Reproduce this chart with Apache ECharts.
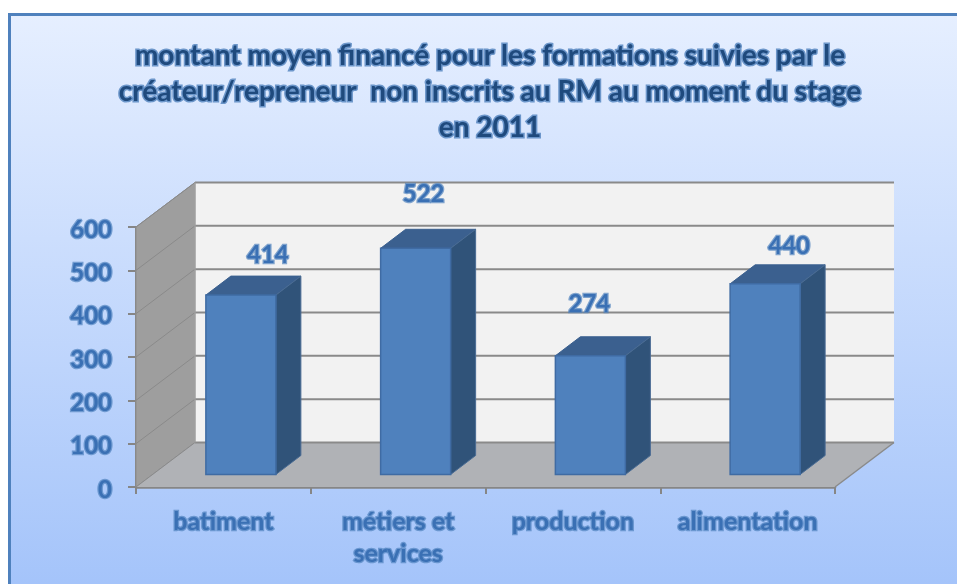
<!DOCTYPE html>
<html><head><meta charset="utf-8">
<style>html,body{margin:0;padding:0;background:#fff}#c{width:957px;height:584px}</style>
<script src="https://cdn.jsdelivr.net/npm/echarts@6/dist/echarts.min.js"></script>
</head><body><div id="c"></div>
<script>
const categories = ['batiment', 'métiers et\nservices', 'production', 'alimentation'];
const values = [414, 522, 274, 440];
const yTicks = [0, 600, 100];
const titleLines = ['montant moyen financé pour les formations suivies par le', 'créateur/repreneur  non inscrits au RM au moment du stage', 'en 2011'];

const chart = echarts.init(document.getElementById('c'), null, {renderer: 'canvas'});
const DX = 59, DY = -44.5;          // wall depth
const BAR_W = 70, BAR_DX = 25, BAR_DY = -19, FOOT_X = 17.5, FOOT_Y = -12.5;
const labelShift = [[27, -40], [8, -54], [-1, -52], [24, -38]];
const FONT = 'Lato, "Open Sans", sans-serif';
const TXT = '#3a70b4', HALO = 'rgba(79,129,189,0.7)';

function poly(pts, fill, stroke, lw) {
  return {type: 'polygon', shape: {points: pts}, style: {fill: fill, stroke: stroke || null, lineWidth: lw || 0}};
}
function walls(params, api) {
  const cs = params.coordSys;
  const left = cs.x, right = cs.x + cs.width;
  const y0 = api.coord([0, yTicks[0]])[1], yT = api.coord([0, yTicks[1]])[1];
  const ch = [];
  ch.push(poly([[left + DX, yT + DY], [right + DX, yT + DY], [right + DX, y0 + DY], [left + DX, y0 + DY]], '#f2f2f2'));
  ch.push(poly([[left, yT], [left + DX, yT + DY], [left + DX, y0 + DY], [left, y0]], '#9e9e9e', '#8c8c8c', 1));
  ch.push(poly([[left, y0], [left + DX, y0 + DY], [right + DX, y0 + DY], [right, y0]], '#b0b2b6'));
  for (let v = yTicks[0]; v <= yTicks[1]; v += yTicks[2]) {
    const y = api.coord([0, v])[1];
    const major = {stroke: '#8a8a8a', lineWidth: 2};
    ch.push({type: 'line', shape: {x1: left, y1: y, x2: left + DX, y2: y + DY}, style: {stroke: '#8a8a8a', lineWidth: 1}});
    ch.push({type: 'line', shape: {x1: left + DX, y1: y + DY, x2: right + DX, y2: y + DY}, style: major});
  }
  ch.push({type: 'line', shape: {x1: right, y1: y0, x2: right + DX, y2: y0 + DY}, style: {stroke: '#8a8a8a', lineWidth: 1.5}});
  ch.push({type: 'line', shape: {x1: left + DX, y1: yT + DY, x2: left + DX, y2: y0 + DY}, style: {stroke: '#a8a8a8', lineWidth: 1}});
  return {type: 'group', children: ch};
}
function bar3d(params, api) {
  const i = api.value(0), v = api.value(1);
  const cx = api.coord([i, 0])[0] + FOOT_X;
  const yb = api.coord([i, 0])[1] + FOOT_Y;
  const yt = api.coord([i, v])[1] + FOOT_Y;
  const l = cx - BAR_W / 2, r = cx + BAR_W / 2;
  const [sx, sy] = labelShift[i];
  return {type: 'group', children: [
    poly([[l, yt], [l + BAR_DX, yt + BAR_DY], [r + BAR_DX, yt + BAR_DY], [r, yt]], '#3b608f', '#3b608f', 1),
    poly([[r, yt], [r + BAR_DX, yt + BAR_DY], [r + BAR_DX, yb + BAR_DY], [r, yb]], '#305379', '#4a6c94', 1),
    poly([[l, yt], [r, yt], [r, yb], [l, yb]], '#4f81bd', '#3f6ba3', 1.5),
    {type: 'text', style: {x: cx + sx, y: yt + sy, text: String(v), align: 'center', verticalAlign: 'middle',
      font: 'bold 24px ' + FONT, fill: TXT, stroke: HALO, lineWidth: 2.5}}
  ]};
}
const commonText = {fontFamily: FONT, fontWeight: 'bold', color: TXT, textBorderColor: HALO, textBorderWidth: 2.5};
chart.setOption({
  animation: false,
  backgroundColor: '#fff',
  graphic: [{type: 'rect', z: -10, shape: {x: 9.5, y: 14.5, width: 960, height: 580},
    style: {stroke: '#4f81bd', lineWidth: 3,
      fill: new echarts.graphic.LinearGradient(0, 0, 0, 1, [{offset: 0, color: '#e6efff'}, {offset: 1, color: '#a3c3fa'}])}}],
  title: {text: titleLines.join('\n'), left: 485, top: 33, textAlign: 'center',
    textStyle: {fontFamily: FONT, fontWeight: 'bold', fontSize: 28, lineHeight: 36, color: '#1f4a7d',
      textBorderColor: 'rgba(79,129,189,0.8)', textBorderWidth: 3}},
  grid: {left: 136, top: 227, width: 699, height: 260},
  xAxis: {type: 'category', data: categories,
    axisLine: {lineStyle: {color: '#868686', width: 2.5}},
    axisTick: {show: true, length: 7, lineStyle: {color: '#868686', width: 2}},
    axisLabel: Object.assign({margin: 19, lineHeight: 32, interval: 0, fontSize: 25}, commonText)},
  yAxis: {type: 'value', min: yTicks[0], max: yTicks[1], interval: yTicks[2], splitLine: {show: false},
    axisLine: {show: true, lineStyle: {color: '#868686', width: 2}},
    axisTick: {show: true, length: 8, lineStyle: {color: '#868686', width: 2}},
    axisLabel: {margin: 24, formatter: '{a|{value}}',
      rich: {a: Object.assign({fontSize: 24, lineHeight: 24, padding: [6, 0, 0, 0]}, commonText)}}},
  series: [
    {type: 'custom', z: 1, renderItem: walls, data: [[0, 0]], clip: false, silent: true},
    {type: 'custom', z: 2, renderItem: bar3d, data: values.map((v, i) => [i, v]), clip: false, silent: true,
      encode: {x: 0, y: 1}}
  ]
});
</script></body></html>
